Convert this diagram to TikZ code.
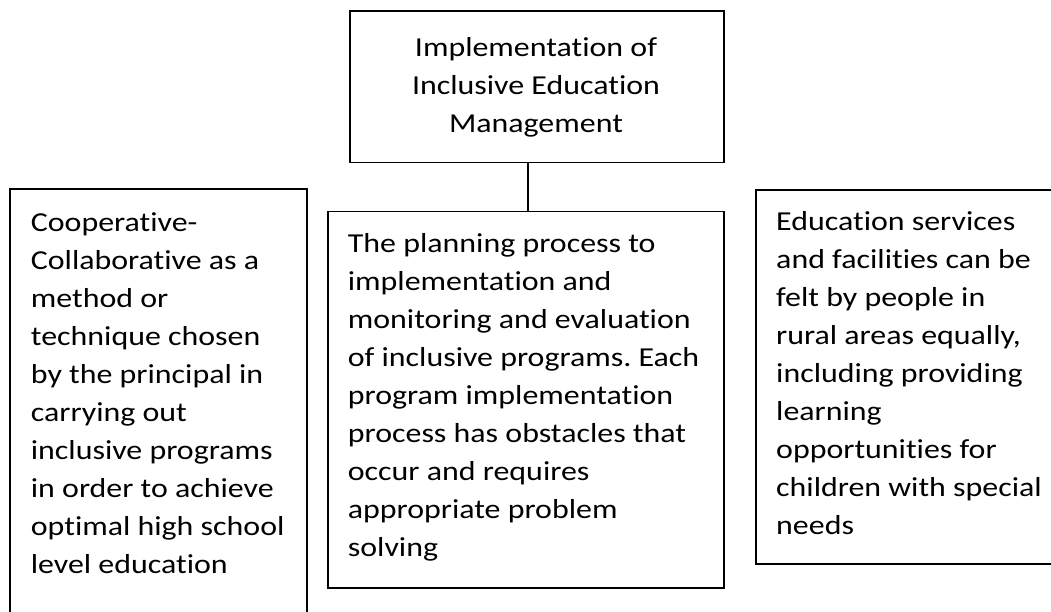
\documentclass[tikz,border=0pt]{standalone}
\usepackage{fontspec}
\setmainfont{Carlito}[FakeStretch=1.165,RawFeature={-liga;-clig;-calt}]
\frenchspacing
\begin{document}
\begin{tikzpicture}[x=1pt,y=-1pt,
  box/.style={draw,line width=1.8pt,rectangle,inner sep=0pt,anchor=north west},
  txt/.style={inner sep=0pt,font=\fontsize{27.4}{38}\selectfont},
  para/.style={txt,anchor=base west,align=left}]
\clip (0,0) rectangle (1051,612);

% frames
\node[box,minimum width=373.4pt,minimum height=151.7pt] (top) at (349.3,10) {};
\node[box,minimum width=296.7pt,minimum height=460pt] (left) at (9.3,188.3) {};
\node[box,minimum width=396.6pt,minimum height=376pt] (mid) at (326.7,210.7) {};
\node[box,minimum width=310pt,minimum height=373.7pt] (right) at (755,189) {};

% connector from the heading box down to the middle box
\coordinate (link) at ([xshift=1.7pt]mid.north);
\draw[line width=1.8pt] (link) -- (link |- top.south);

% texts (anchored at the baseline of their last line)
\node[txt,anchor=base,align=center] (toptext) at (536,132.7)
  {Implementation of\\Inclusive Education\\Management};
\node[para] (lefttext) at (30.7,573)
  {Cooperative-\\Collaborative as a\\method or\\technique chosen\\by the principal in\\carrying out\\inclusive programs\\in order to achieve\\optimal high school\\level education};
\node[para] (midtext) at (347.7,556.3)
  {The planning process to\\implementation and\\monitoring and evaluation\\of inclusive programs. Each\\program implementation\\process has obstacles that\\occur and requires\\appropriate problem\\solving};
\node[para] (righttext) at (776,534)
  {Education services\\and facilities can be\\felt by people in\\rural areas equally,\\including providing\\learning\\opportunities for\\children with special\\needs};
\end{tikzpicture}
\end{document}
